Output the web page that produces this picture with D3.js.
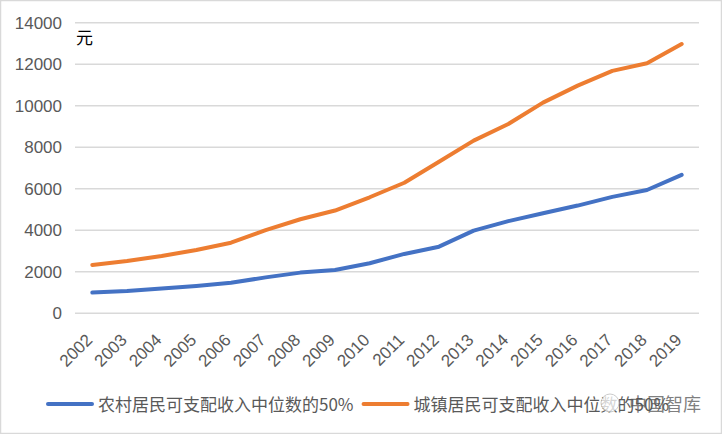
<!DOCTYPE html>
<html><head><meta charset="utf-8">
<script src="https://cdn.jsdelivr.net/npm/d3@7"></script>
<style>
html,body{margin:0;padding:0;background:#fff;}
svg{display:block;}
</style></head>
<body>
<script>
const years = ["2002","2003","2004","2005","2006","2007","2008","2009","2010","2011","2012","2013","2014","2015","2016","2017","2018","2019"];
const rural50 = [1000,1070,1200,1320,1470,1730,1960,2090,2410,2860,3210,3980,4440,4820,5190,5610,5940,6670];
const urban50 = [2330,2520,2760,3050,3400,4010,4530,4950,5590,6290,7300,8320,9120,10150,10970,11680,12050,12970];
const yTicks = [0,2000,4000,6000,8000,10000,12000,14000];
const seriesNames = ["农村居民可支配收入中位数的50%","城镇居民可支配收入中位数的50%"];
const seriesColors = ["#4472C4","#ED7D31"];
const unitLabel = "元";
const watermark = "中国智库";

const W = 722, H = 434;
const svg = d3.select("body").append("svg").attr("width", W).attr("height", H);
svg.append("rect").attr("x",0.5).attr("y",0.5).attr("width",W-1).attr("height",H-1)
  .attr("fill","#fff").attr("stroke","#d9d9d9").attr("stroke-width",1.5);

const x = d3.scaleBand().domain(years).range([75, 699]);
const y = d3.scaleLinear().domain([0, 14000]).range([313.3, 22.7]);
const font = "'Liberation Sans', Arial, sans-serif";
const cjk = "'Noto Sans CJK SC', sans-serif";

// gridlines
svg.append("g").selectAll("line").data(yTicks).join("line")
  .attr("x1", 75).attr("x2", 699)
  .attr("y1", d => y(d)).attr("y2", d => y(d))
  .attr("stroke", "#d9d9d9").attr("stroke-width", 1.5);

// y axis labels
svg.append("g").selectAll("text").data(yTicks).join("text")
  .attr("x", 62).attr("y", d => y(d)).attr("dy", "0.35em")
  .attr("text-anchor", "end").attr("font-family", font).attr("font-size", 17)
  .attr("fill", "#595959").text(d => d);

// x labels
svg.append("g").selectAll("text").data(years).join("text")
  .attr("transform", d => `translate(${x(d) + x.bandwidth()/2 + 1},341) rotate(-45)`)
  .attr("text-anchor", "end").attr("font-family", font).attr("font-size", 17)
  .attr("fill", "#595959").text(d => d);

// unit label
svg.append("text").attr("x", 76).attr("y", 44).attr("font-family", cjk)
  .attr("font-size", 17).attr("fill", "#000").text(unitLabel);

// lines
const line = d3.line().x((d,i) => x(years[i]) + x.bandwidth()/2).y(d => y(d));
[rural50, urban50].forEach((s, k) => {
  svg.append("path").datum(s).attr("d", line).attr("fill", "none")
    .attr("stroke", seriesColors[k]).attr("stroke-width", 4)
    .attr("stroke-linejoin", "round").attr("stroke-linecap", "round");
});

// legend
let lx = 48;
const ly = 404;
seriesNames.forEach((name, k) => {
  svg.append("line").attr("x1", lx).attr("x2", lx + 44).attr("y1", ly).attr("y2", ly)
    .attr("stroke", seriesColors[k]).attr("stroke-width", 4).attr("stroke-linecap","round");
  const t = svg.append("text").attr("x", lx + 50).attr("y", ly + 6.5)
    .attr("font-family", cjk).attr("font-size", 17).attr("fill", "#595959").text(name);
  lx = lx + 50 + t.node().getComputedTextLength() + 10;
});

// watermark
const wm = svg.append("g").attr("opacity", 0.75);
wm.append("circle").attr("cx", 610).attr("cy", 403).attr("r", 9)
  .attr("fill", "#fff").attr("stroke", "#bbb").attr("stroke-width", 1);
wm.append("text").attr("x", 629).attr("y", 410.5).attr("font-family", cjk)
  .attr("font-size", 18).attr("fill", "#555").text(watermark);
</script>
</body></html>
